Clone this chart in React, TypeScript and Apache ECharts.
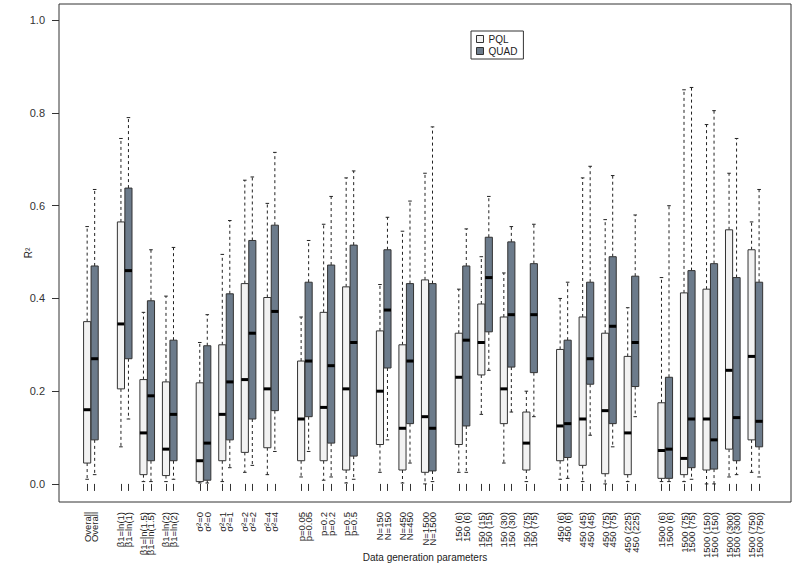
import React, { useEffect, useRef } from "react";
import * as echarts from "echarts";

// ---- data ----
const groupSizes = [1, 3, 4, 3, 3, 4, 4, 5];
const conditions = [
  "Overall",
  "β1=ln(1)", "β1=ln(1.5)", "β1=ln(2)",
  "σ²=0", "σ²=1", "σ²=2", "σ²=4",
  "p=0.05", "p=0.2", "p=0.5",
  "N=150", "N=450", "N=1500",
  "150 (6)", "150 (15)", "150 (30)", "150 (75)",
  "450 (6)", "450 (45)", "450 (75)", "450 (225)",
  "1500 (6)", "1500 (75)", "1500 (150)", "1500 (300)", "1500 (750)",
];
// [lower whisker, Q1, median, Q3, upper whisker]
const pqlStats = [
  [0.01, 0.045, 0.16, 0.35, 0.555],
  [0.08, 0.205, 0.345, 0.565, 0.745],
  [0.005, 0.02, 0.11, 0.225, 0.37],
  [0.005, 0.018, 0.075, 0.22, 0.405],
  [0.002, 0.005, 0.05, 0.218, 0.305],
  [0.005, 0.05, 0.15, 0.3, 0.495],
  [0.025, 0.068, 0.225, 0.432, 0.655],
  [0.02, 0.078, 0.205, 0.402, 0.605],
  [0.015, 0.05, 0.14, 0.265, 0.36],
  [0.008, 0.05, 0.165, 0.37, 0.56],
  [0.002, 0.03, 0.205, 0.425, 0.66],
  [0.025, 0.085, 0.2, 0.33, 0.43],
  [0.002, 0.03, 0.12, 0.3, 0.545],
  [0.0, 0.025, 0.145, 0.44, 0.67],
  [0.025, 0.085, 0.23, 0.325, 0.42],
  [0.15, 0.235, 0.305, 0.388, 0.49],
  [0.045, 0.13, 0.205, 0.36, 0.455],
  [0.005, 0.03, 0.088, 0.155, 0.2],
  [0.01, 0.05, 0.125, 0.29, 0.4],
  [0.005, 0.04, 0.14, 0.36, 0.66],
  [0.0, 0.022, 0.158, 0.325, 0.57],
  [0.005, 0.02, 0.11, 0.275, 0.38],
  [0.005, 0.012, 0.072, 0.175, 0.445],
  [0.005, 0.02, 0.055, 0.412, 0.85],
  [0.0, 0.03, 0.14, 0.42, 0.775],
  [0.015, 0.075, 0.245, 0.548, 0.67],
  [0.025, 0.095, 0.275, 0.505, 0.565],
];
const quadStats = [
  [0.02, 0.095, 0.27, 0.47, 0.635],
  [0.14, 0.27, 0.46, 0.638, 0.79],
  [0.005, 0.05, 0.19, 0.395, 0.505],
  [0.01, 0.05, 0.15, 0.31, 0.51],
  [0.002, 0.008, 0.088, 0.298, 0.365],
  [0.035, 0.095, 0.22, 0.41, 0.568],
  [0.04, 0.14, 0.325, 0.525, 0.662],
  [0.07, 0.158, 0.372, 0.558, 0.715],
  [0.07, 0.145, 0.265, 0.435, 0.525],
  [0.015, 0.088, 0.255, 0.472, 0.62],
  [0.01, 0.06, 0.305, 0.515, 0.675],
  [0.095, 0.25, 0.375, 0.505, 0.575],
  [0.045, 0.13, 0.265, 0.432, 0.61],
  [0.005, 0.028, 0.12, 0.432, 0.77],
  [0.025, 0.125, 0.31, 0.47, 0.55],
  [0.245, 0.328, 0.445, 0.532, 0.62],
  [0.155, 0.252, 0.365, 0.522, 0.555],
  [0.145, 0.24, 0.365, 0.475, 0.56],
  [0.012, 0.057, 0.13, 0.31, 0.435],
  [0.105, 0.215, 0.27, 0.435, 0.685],
  [0.08, 0.13, 0.34, 0.49, 0.665],
  [0.145, 0.21, 0.305, 0.448, 0.58],
  [0.005, 0.012, 0.075, 0.23, 0.6],
  [0.01, 0.035, 0.14, 0.46, 0.855],
  [0.0, 0.032, 0.095, 0.475, 0.805],
  [0.02, 0.05, 0.143, 0.445, 0.745],
  [0.015, 0.08, 0.135, 0.435, 0.635],
];
const yTicks = [0, 0.2, 0.4, 0.6, 0.8, 1.0];
const seriesNames = ["PQL", "QUAD"];

// ---- layout of category slots (positions along the x axis) ----
const LEAD = 7;
const PAIR_OFFSET = 2;
const PAIR_STEP = 6;
const GROUP_STEP = 9;
const TRAIL = 8;

const pqlSlots: number[] = [];
const quadSlots: number[] = [];
{
  let slot = LEAD;
  groupSizes.forEach((size, g) => {
    for (let j = 0; j < size; j++) {
      pqlSlots.push(slot);
      quadSlots.push(slot + PAIR_OFFSET);
      if (j < size - 1) slot += PAIR_STEP;
    }
    if (g < groupSizes.length - 1) slot += GROUP_STEP;
  });
}
const slotCount = quadSlots[quadSlots.length - 1] + 1 + TRAIL;
const slotLabels: string[] = new Array(slotCount).fill("");
conditions.forEach((c, i) => {
  slotLabels[pqlSlots[i]] = c;
  slotLabels[quadSlots[i]] = c;
});

const FONT = "'Liberation Sans', Arial, Helvetica, sans-serif";

function makeRender(fill: string) {
  return (params: any, api: any) => {
    const x = api.value(0);
    const lo = api.coord([x, api.value(1)]);
    const q1 = api.coord([x, api.value(2)]);
    const md = api.coord([x, api.value(3)]);
    const q3 = api.coord([x, api.value(4)]);
    const hi = api.coord([x, api.value(5)]);
    const band = api.size([1, 0])[0];
    const w = band * 1.9;
    const cx = lo[0];
    const cap = w * 0.25;
    const dash = { stroke: "#222", lineWidth: 1, lineDash: [3, 3] };
    const solid = { stroke: "#222", lineWidth: 1 };
    return {
      type: "group",
      children: [
        { type: "line", shape: { x1: cx, y1: q3[1], x2: cx, y2: hi[1] }, style: dash },
        { type: "line", shape: { x1: cx, y1: q1[1], x2: cx, y2: lo[1] }, style: dash },
        { type: "line", shape: { x1: cx - cap, y1: hi[1], x2: cx + cap, y2: hi[1] }, style: solid },
        { type: "line", shape: { x1: cx - cap, y1: lo[1], x2: cx + cap, y2: lo[1] }, style: solid },
        {
          type: "rect",
          shape: { x: cx - w / 2, y: q3[1], width: w, height: q1[1] - q3[1] },
          style: { fill, stroke: "#333", lineWidth: 1 },
        },
        {
          type: "line",
          shape: { x1: cx - w / 2, y1: md[1], x2: cx + w / 2, y2: md[1] },
          style: { stroke: "#000", lineWidth: 3 },
        },
      ],
    };
  };
}

export default function App() {
  const ref = useRef<HTMLDivElement>(null);
  useEffect(() => {
    if (!ref.current) return;
    const chart = echarts.init(ref.current, undefined, { renderer: "svg" });
    const pqlData = pqlStats.map((s, i) => [pqlSlots[i], ...s]);
    const quadData = quadStats.map((s, i) => [quadSlots[i], ...s]);
    chart.setOption({
      animation: false,
      backgroundColor: "#fff",
      textStyle: { fontFamily: FONT },
      grid: {
        left: 59,
        right: 4,
        top: 4,
        bottom: 63,
        outerBoundsMode: "none",
        containLabel: false,
        show: true,
        borderColor: "#333",
        borderWidth: 1,
        backgroundColor: "transparent",
      },
      legend: {
        data: seriesNames,
        orient: "vertical",
        left: 471,
        top: 31,
        padding: [3, 6, 3, 5],
        itemGap: 2,
        itemWidth: 7,
        itemHeight: 7,
        icon: "rect",
        borderColor: "#333",
        borderWidth: 1,
        itemStyle: { borderColor: "#333", borderWidth: 1 },
        textStyle: { fontSize: 10, color: "#222", fontFamily: FONT },
        selectedMode: false,
      },
      xAxis: {
        type: "category",
        data: slotLabels,
        boundaryGap: true,
        name: "Data generation parameters",
        nameLocation: "middle",
        nameGap: 50,
        nameMoveOverlap: false,
        nameTextStyle: { fontSize: 10, color: "#222", fontFamily: FONT },
        axisLine: { show: false },
        axisTick: {
          show: true,
          alignWithLabel: true,
          length: 7,
          interval: (idx: number) => slotLabels[idx] !== "",
          lineStyle: { color: "#333" },
        },
        axisLabel: {
          interval: 0,
          rotate: 90,
          margin: 10,
          fontSize: 9.5,
          color: "#222",
          fontFamily: FONT,
        },
        splitLine: { show: false },
      },
      yAxis: {
        type: "value",
        min: -0.039,
        max: 1.035,
        name: "R²",
        nameLocation: "middle",
        nameGap: 26,
        nameMoveOverlap: false,
        nameRotate: 90,
        nameTextStyle: { fontSize: 10, color: "#222", fontFamily: FONT },
        axisLine: { show: false },
        axisTick: { show: true, length: 7, customValues: yTicks, lineStyle: { color: "#333" } },
        axisLabel: {
          customValues: yTicks,
          margin: 14,
          fontSize: 11,
          color: "#333",
          fontFamily: FONT,
          formatter: (v: number) => v.toFixed(1),
        },
        splitLine: { show: false },
      },
      series: [
        {
          name: seriesNames[0],
          type: "custom",
          renderItem: makeRender("#f2f2f2"),
          itemStyle: { color: "#f2f2f2", borderColor: "#333", borderWidth: 1 },
          encode: { x: 0, y: [1, 2, 3, 4, 5] },
          data: pqlData,
        },
        {
          name: seriesNames[1],
          type: "custom",
          renderItem: makeRender("#6c7b8b"),
          itemStyle: { color: "#6c7b8b", borderColor: "#333", borderWidth: 1 },
          encode: { x: 0, y: [1, 2, 3, 4, 5] },
          data: quadData,
        },
      ],
    });
    return () => chart.dispose();
  }, []);
  return (
    <div
      ref={ref}
      style={{ position: "absolute", left: 0, top: 0, width: 795, height: 565 }}
    />
  );
}
